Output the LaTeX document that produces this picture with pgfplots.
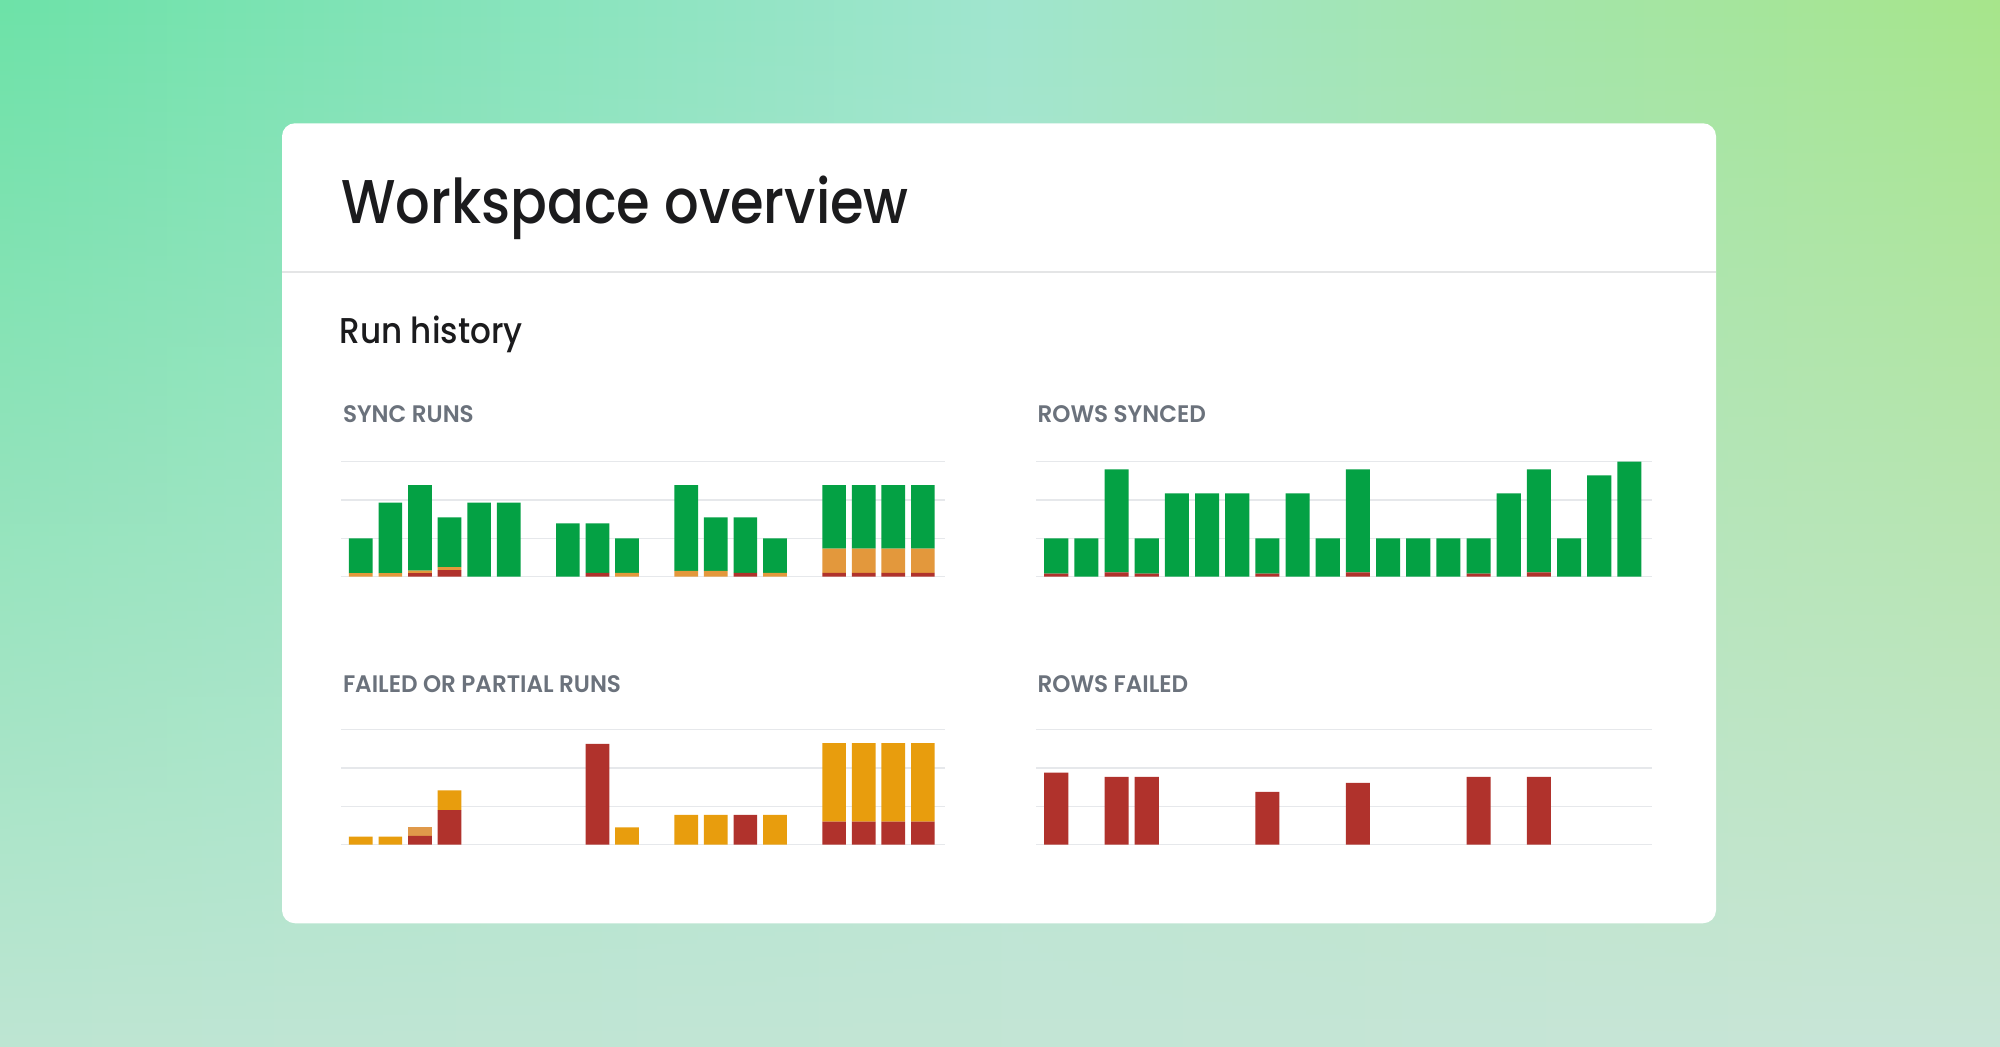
\documentclass[border=0pt]{standalone}
\usepackage{pgfplots}
\pgfplotsset{compat=1.18}
\usetikzlibrary{shadings,fadings}
\usepackage{fontspec}
\setmainfont{Poppins}
\newfontfamily\titlefont{Poppins Medium}[FakeStretch=0.88]
\newfontfamily\subfont{Poppins Medium}[FakeStretch=0.91]
\newfontfamily\labelfont{Poppins SemiBold}[FakeStretch=0.965]

\definecolor{bgTL}{HTML}{6DE2A8}
\definecolor{bgTM}{HTML}{A0E5CE}
\definecolor{bgTR}{HTML}{A7E68B}
\definecolor{bgBL}{HTML}{BEE6D3}
\definecolor{bgBR}{HTML}{C9E5D8}
\definecolor{okgreen}{HTML}{04A144}
\definecolor{failred}{HTML}{B0322C}
\definecolor{partorange}{HTML}{E3983C}
\definecolor{amber}{HTML}{E89D0D}
\definecolor{lightorange}{HTML}{E0994A}
\definecolor{gridgray}{HTML}{E6E8EB}
\definecolor{labelgray}{HTML}{6B727C}
\definecolor{inkblack}{HTML}{1B1B1D}

\tikzfading[name=fadeup, top color=transparent!100, bottom color=transparent!0]

\pgfplotsset{
  spark/.style={
    scale only axis, anchor=south west,
    height=57.5bp,
    xmin=-0.67, xmax=19.75, ymin=0, ymax=3,
    axis line style={draw=none},
    xtick=\empty, ytick={0,1,2,3}, yticklabels={},
    major tick length=0pt,
    ymajorgrids, grid style={gridgray, line width=0.75bp},
    ybar stacked, bar width=0.8,
    every axis plot/.append style={draw=none},
  },
}

% slot, red, orange, green (units = one gridline)
\pgfplotstableread{
x  red   orange green
0  0     0.09   0.91
1  0     0.09   1.84
2  0.09  0.07   2.23
3  0.17  0.08   1.30
4  0     0      1.93
5  0     0      1.93
6  0     0      0
7  0     0      1.39
8  0.10  0      1.29
9  0     0.10   0.90
10 0     0      0
11 0     0.15   2.24
12 0     0.15   1.40
13 0.10  0      1.45
14 0     0.10   0.90
15 0     0      0
16 0.10  0.63   1.66
17 0.10  0.63   1.66
18 0.10  0.63   1.66
19 0.10  0.63   1.66
}\syncruns

\pgfplotstableread{
x  red   green
0  0.08  0.92
1  0     1.00
2  0.11  2.69
3  0.08  0.92
4  0     2.17
5  0     2.17
6  0     2.17
7  0.08  0.92
8  0     2.17
9  0     1.00
10 0.11  2.69
11 0     1.00
12 0     1.00
13 0     1.00
14 0.08  0.92
15 0     2.17
16 0.11  2.69
17 0     1.00
18 0     2.64
19 0     3.00
}\rowssynced

\pgfplotstableread{
x  red   amber light
0  0     0.21  0
1  0     0.21  0
2  0.23  0     0.22
3  0.90  0.52  0
4  0     0     0
5  0     0     0
6  0     0     0
7  0     0     0
8  2.63  0     0
9  0     0.45  0
10 0     0     0
11 0     0.78  0
12 0     0.78  0
13 0.78  0     0
14 0     0.78  0
15 0     0     0
16 0.60  2.05  0
17 0.60  2.05  0
18 0.60  2.05  0
19 0.60  2.05  0
}\failedruns

\pgfplotstableread{
x  red
0  1.88
1  0
2  1.77
3  1.77
4  0
5  0
6  0
7  1.38
8  0
9  0
10 1.61
11 0
12 0
13 0
14 1.77
15 0
16 1.77
17 0
18 0
19 0
}\rowsfailed

\begin{document}
\begin{tikzpicture}[x=1bp,y=1bp]
% background
\shade[left color=bgTL, right color=bgTR, middle color=bgTM]
  (0,0) rectangle (1000,523.5);
\shade[left color=bgBL, right color=bgBR, path fading=fadeup]
  (0,0) rectangle (1000,523.5);
% card
\fill[white, rounded corners=6.5bp] (141,61.85) rectangle (858,461.85);
\draw[gridgray!80!gray!60, line width=1bp] (141,387.65) -- (858,387.65);

% texts
\node[anchor=base west, inner sep=0pt, text=inkblack]
  at (170.5,411.85) {\titlefont\fontsize{31}{36}\selectfont Workspace overview};
\node[anchor=base west, inner sep=0pt, text=inkblack]
  at (169.5,351.85) {\subfont\fontsize{18}{22}\selectfont Run history};
\node[anchor=base west, inner sep=0pt, text=labelgray]
  at (171.3,312.15) {\labelfont\fontsize{12}{14}\selectfont SYNC RUNS};
\node[anchor=base west, inner sep=0pt, text=labelgray]
  at (518.6,312.15) {\labelfont\fontsize{12}{14}\selectfont ROWS SYNCED};
\node[anchor=base west, inner sep=0pt, text=labelgray]
  at (171.3,177.35) {\labelfont\fontsize{12}{14}\selectfont FAILED OR PARTIAL RUNS};
\node[anchor=base west, inner sep=0pt, text=labelgray]
  at (518.6,177.35) {\labelfont\fontsize{12}{14}\selectfont ROWS FAILED};

% sync runs
\begin{axis}[spark, at={(170.5bp,235.15bp)}, width=302bp]
  \addplot[fill=failred] table[x=x, y=red] {\syncruns};
  \addplot[fill=partorange] table[x=x, y=orange] {\syncruns};
  \addplot[fill=okgreen] table[x=x, y=green] {\syncruns};
\end{axis}

% rows synced
\begin{axis}[spark, at={(518bp,235.15bp)}, width=308bp]
  \addplot[fill=failred] table[x=x, y=red] {\rowssynced};
  \addplot[fill=okgreen] table[x=x, y=green] {\rowssynced};
\end{axis}

% failed or partial runs
\begin{axis}[spark, at={(170.5bp,101.15bp)}, width=302bp]
  \addplot[fill=failred] table[x=x, y=red] {\failedruns};
  \addplot[fill=amber] table[x=x, y=amber] {\failedruns};
  \addplot[fill=lightorange] table[x=x, y=light] {\failedruns};
\end{axis}

% rows failed
\begin{axis}[spark, at={(518bp,101.15bp)}, width=308bp]
  \addplot[fill=failred] table[x=x, y=red] {\rowsfailed};
\end{axis}
\end{tikzpicture}
\end{document}
